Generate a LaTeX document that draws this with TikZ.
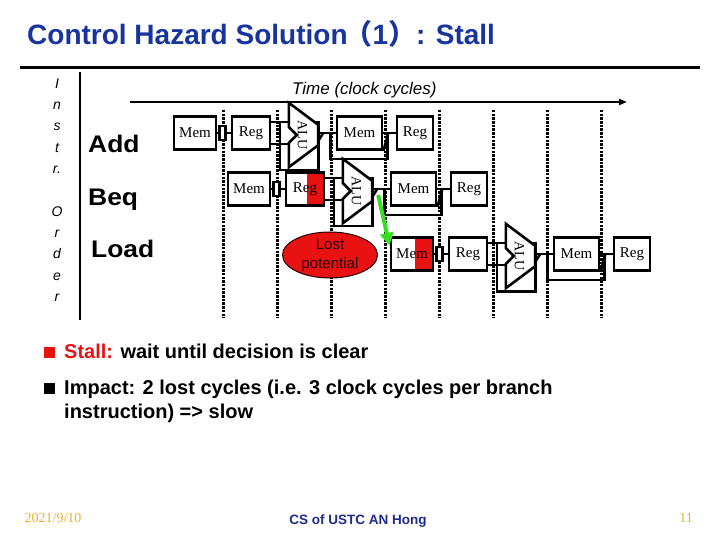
\documentclass[tikz,border=0pt]{standalone}
\usepackage{fontspec}
\setmainfont{Liberation Sans}
\newfontfamily\boxfont{Liberation Serif}
\newfontfamily\cjk{Noto Sans CJK SC}
\usetikzlibrary{calc,shapes.geometric,arrows.meta,backgrounds}
\definecolor{titleblue}{RGB}{24,52,158}
\definecolor{footblue}{RGB}{30,42,140}
\definecolor{gold}{RGB}{228,178,48}
\definecolor{stallred}{RGB}{232,18,18}
\definecolor{lostdark}{RGB}{40,0,0}
\definecolor{brgreen}{RGB}{52,222,34}
\begin{document}
\begin{tikzpicture}[x=1pt, y=-1pt,
  wire/.style={line width=2.6pt},
  box/.style={draw, line width=2.8pt, fill=white, inner sep=0pt, minimum height=33pt,
    font=\boxfont\fontsize{15}{16}\selectfont},
  halfred/.style={path picture={\fill[stallred] ($(path picture bounding box.north east)+(-#1,0pt)$)
    rectangle (path picture bounding box.south east);}},
  alubox/.style={inner sep=0pt, minimum width=29pt, minimum height=64pt},
  alu/.style={line width=2.6pt, fill=white, line join=miter},
  alutext/.style={rotate=-90, font=\boxfont\fontsize{14}{15}\selectfont},
  clockline/.style={line width=3pt, dash pattern=on 2.5pt off 1.2pt},
  instr/.style={font=\bfseries\fontsize{24}{26}\selectfont, anchor=base west, inner sep=0pt, xscale=1.1},
  lost/.style={ellipse, draw=lostdark, line width=1pt, fill=stallred, minimum width=95pt,
    minimum height=46pt, inner sep=0pt, align=center, text=lostdark,
    font=\fontsize{15}{19}\selectfont},
  brarrow/.style={line width=4pt, draw=brgreen, fill=brgreen, -{Triangle[length=13pt,width=13pt]}},
  bullet/.style={minimum size=11pt, inner sep=0pt},
  point/.style={font=\bfseries\fontsize{20}{24}\selectfont, anchor=base west, inner sep=0pt}]
\useasboundingbox (0,0) rectangle (720,540);

% title and frame lines
\node[anchor=base west, inner sep=0pt, text=titleblue, font=\bfseries\fontsize{28}{30}\selectfont] (title) at (27,45)
  {Control Hazard Solution\hspace{-3pt}{\cjk （}1{\cjk ）}: Stall};
\draw[line width=3pt] (20,68) -- (700,68);
\draw[line width=2pt] (80,72) -- (80,320);
\node[font=\itshape\fontsize{14}{21.3}\selectfont, align=center] (order) at (57,190)
  {I\\n\\s\\t\\r.\\[21.3pt]O\\r\\d\\e\\r};
\node[instr] (add) at (88,153) {Add};
\node[instr] (beq) at (88,206) {Beq};
\node[instr] (load) at (91,258) {Load};

% time axis
\node[font=\itshape\fontsize{17}{19}\selectfont, anchor=base west, inner sep=0pt] (time) at (292,95) {Time (clock cycles)};
\coordinate (t0) at (130,102);
\coordinate (t1) at (627,102);
\draw[line width=2.2pt, -{Triangle[length=8pt,width=6pt]}] (t0) -- (t1);
\begin{scope}[on background layer]
  \foreach \k in {0,...,7}
    \draw[clockline] (223+54*\k,110) -- (223+54*\k,318);
\end{scope}

% pipeline rows
\foreach \r/\x/\y/\imw/\rgw in {A/174/133/0pt/0pt, B/228/189/0pt/17pt, C/391/254/18pt/0pt} {
  \node[box, minimum width=42pt, halfred=\imw] (im\r) at (\x+21,\y) {Mem};
  \node[box, minimum width=38pt, halfred=\rgw] (rg\r) at (\x+77,\y) {Reg};
  \node[alubox] (alu\r) at (\x+129.5,\y+2) {};
  \node[box, minimum width=45pt] (dm\r) at (\x+185.5,\y) {Mem};
  \node[box, minimum width=36pt] (wb\r) at (\x+241,\y) {Reg};
  \begin{scope}[on background layer]
    \draw[wire] ($(alu\r.west)+(-9,-13)$) rectangle ($(alu\r.south east)+(0,3)$);
    \draw[wire] ($(dm\r.west)+(-5,0)$) rectangle ($(dm\r.south east)+(4,8)$);
  \end{scope}
  \draw[wire] (im\r) -- (rg\r);
  \draw[wire, fill=white] ($(rg\r.west)+(-11,-7)$) rectangle ($(rg\r.west)+(-5,7)$);
  \draw[wire] ($(rg\r.east)+(0,-11)$) -- ($(alu\r.west)+(0,-13)$);
  \draw[wire] ($(rg\r.east)+(0,11)$) -- ($(alu\r.west)+(0,9)$);
  \draw[wire] ($(alu\r.east)+(0,-2)$) -- (dm\r.west);
  \draw[wire] ($(alu\r.east)+(0,6)$) -- ($(alu\r.east)+(5,-2)$);
  \draw[wire] (dm\r) -- (wb\r);
  \draw[wire] (dm\r.south east) -- ($(dm\r.east)+(5,0)$);
  \draw[alu] (alu\r.north west) -- ($(alu\r.north east)+(0,22)$) -- ($(alu\r.south east)+(0,-22)$)
    -- (alu\r.south west) -- ($(alu\r.west)+(0,8)$) -- ($(alu\r.west)+(8,0)$)
    -- ($(alu\r.west)+(0,-8)$) -- cycle;
  \node[alutext] at ($(alu\r)+(-1,0)$) {ALU};
}

% stall bubble and branch result
\node[lost] (lost) at (330,255) {Lost\\potential};
\coordinate (brout) at ($(aluB.east)+(6,4)$);
\draw[brarrow] (brout) -- (imC.160);

% bullet points
\node[bullet, fill=stallred] (sq1) at (49.5,352) {};
\node[point] (p1) at (64,358) {\textcolor{stallred}{Stall:} wait until decision is clear};
\node[bullet, fill=black] (sq2) at (49.5,388) {};
\node[point] (p2) at (64,394) {Impact: 2 lost cycles (i.e. 3 clock cycles per branch};
\node[point] (p3) at (64,418) {instruction) => slow};

% footer
\node[text=gold, font=\boxfont\fontsize{14}{16}\selectfont] (date) at (53,518) {2021/9/10};
\node[text=footblue, font=\bfseries\fontsize{13.5}{15}\selectfont] (cs) at (358,521) {CS of USTC AN Hong};
\node[text=gold, font=\boxfont\fontsize{14}{16}\selectfont] (page) at (686,518) {11};
\end{tikzpicture}
\end{document}
